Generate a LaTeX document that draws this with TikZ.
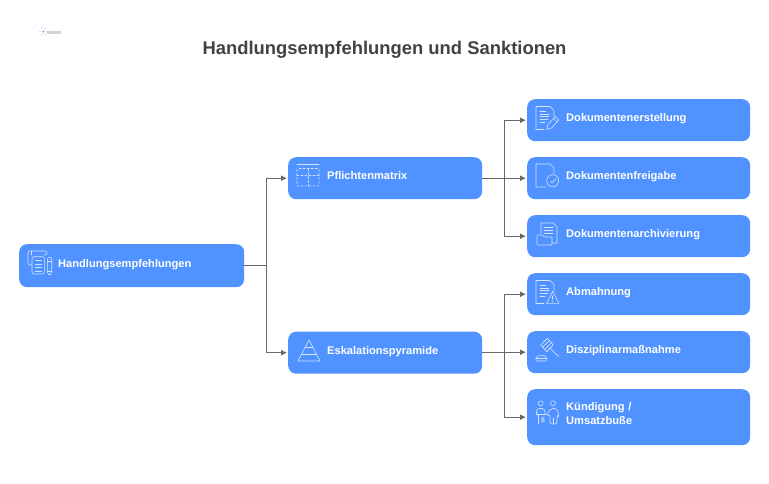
\documentclass[tikz,border=0pt]{standalone}
\usepackage{fontspec}
\setmainfont{Liberation Sans}
\usetikzlibrary{arrows.meta}
\definecolor{boxblue}{HTML}{5092FF}
\definecolor{iconline}{HTML}{D4E4FF}
\definecolor{connline}{HTML}{666666}
\definecolor{titlegrey}{HTML}{424242}
\tikzset{
  box/.style={fill=boxblue,rounded corners=8pt,text=white,font=\fontsize{11.1}{14}\selectfont\bfseries,
    minimum height=#1,inner ysep=0pt,inner xsep=39pt,align=left,text depth=5pt,anchor=north west},
  rootbox/.style={box=43pt,text width=147pt},
  midbox/.style={box=42pt,text width=116pt},
  leafbox/.style={box=42pt,text width=145pt},
  conn/.style={draw=connline,line width=1pt,-{Latex[length=6pt,width=6pt]},shorten >=1pt},
  icon/.style={draw=iconline,line width=0.6pt,line join=round,line cap=round}
}
% icons, drawn from the upper left corner of their box
\newcommand{\docicon}{%
  \draw[icon] (17,30.5)--(9,30.5)--(9,7.5)--(23,7.5)--(27,11.5)--(27,18);
  \foreach \i/\e in {12/19,14.8/22,17.6/22,20.4/21,23.2/18} {
    \draw[icon] (13,\i)--(\e,\i);
  }}
\newcommand{\pencilicon}{%
  \draw[icon] (19.7,30.3)--(21,25.5)--(28.5,17.5)--(32,21)--(24.5,29)--cycle (26.7,19.5)--(30.2,23);}
\newcommand{\checkicon}{%
  \draw[icon] (19,30)--(9,30)--(9,7)--(23,7)--(27,11)--(27,17);
  \draw[icon] (25.7,23.7) circle (6);
  \draw[icon] (23,24)--(25,26)--(29,21.5);}
\newcommand{\archiveicon}{%
  \draw[icon] (14,19)--(14,8)--(26,8)--(30,12)--(30,28)--(25,28);
  \foreach \i in {12,15,18} {
    \draw[icon] (17,\i)--(26,\i);
  }
  \draw[icon,rounded corners=1pt] (10,30)--(10,20)--(15,20)--(17,22)--(25,22)--(25,30)--cycle;}
\newcommand{\warnicon}{%
  \draw[icon] (25.7,18.5)--(19.5,30.3)--(32,30.3)--cycle;
  \draw[icon] (25.7,23)--(25.7,26.5) (25.7,28.3)--(25.7,28.6);}
\newcommand{\gavelicon}{%
  \draw[icon] (13.7,14)--(20.3,7.3)--(26.3,14)--(19.7,20.7)--cycle;
  \draw[icon] (15.7,16.2)--(22.3,9.5) (17.7,18.5)--(24.3,11.7);
  \draw[icon] (22.3,16.7)--(32,25.7);
  \draw[icon,rounded corners=1pt] (9,30)--(9,27)--(11,24.7)--(18,24.7)--(19.7,27)--(19.7,30)--cycle;
  \draw[icon] (9,27)--(19.7,27);}
\newcommand{\peopleicon}{%
  \draw[icon] (13.7,14.3) circle (2.5) (26,14.3) circle (2.5);
  \draw[icon,rounded corners=3pt] (9.5,25)--(9.5,19.5)--(18,19.5)--(18,25);
  \draw[icon] (9,25)--(19.5,25) (11,25)--(11,35);
  \draw[icon,rounded corners=2pt] (19.7,25.7)--(24,19.5)--(30,19.5)--(32,27)--(30,27)--(30,35)--(23,35)--(23,25)--(20.5,27);
  \draw[icon] (26.5,29)--(26.5,35);
  \node[text=iconline,font=\fontsize{7}{7}\selectfont\bfseries,inner sep=0pt] (dollar) at (16,31.5) {\$};}
\begin{document}
\begin{tikzpicture}[x=1pt,y=-1pt]
  \useasboundingbox (0,0) rectangle (769,483);

  \node[font=\fontsize{18.4}{22}\selectfont\bfseries,text=titlegrey] (title) at (384.5,50) {Handlungsempfehlungen und Sanktionen};

  % logo
  \fill[gray!35] (47,30.5) rectangle (61,33.5);
  \foreach \a in {0,60,...,300} {
    \fill[boxblue!35] (43.5,31.5)+(\a:3.5) circle (0.8);
  }
  \fill[gray!70] (43.5,31.5) circle (1.2);

  \node[rootbox] (root) at (19,244) {Handlungsempfehlungen};
  \node[midbox] (matrix) at (288,157) {Pflichtenmatrix};
  \node[midbox] (pyramid) at (288,331.5) {Eskalationspyramide};

  \foreach \name/\ypos/\txt in {doca/99/Dokumentenerstellung,docb/157/Dokumentenfreigabe,docc/215/Dokumentenarchivierung,warn/273/Abmahnung,disc/331/Disziplinarmaßnahme} {
    \node[leafbox] (\name) at (527,\ypos) {\txt};
  }
  \node[box=56pt,text width=145pt,text depth=22pt] (kuend) at (527,389) {Kündigung /\\Umsatzbuße};

  % connectors
  \foreach \t in {matrix,pyramid} {
    \draw[conn] (root.east)--++(22,0)|-(\t.west);
  }
  \foreach \t in {doca,docb,docc} {
    \draw[conn] (matrix.east)--++(22,0)|-(\t.west);
  }
  \foreach \t in {warn,disc,kuend} {
    \draw[conn] (pyramid.east)--++(22,0)|-(\t.west);
  }

  % icons
  \begin{scope}[shift={(527,99)}]
    \docicon
    \pencilicon
  \end{scope}
  \begin{scope}[shift={(527,157)}]
    \checkicon
  \end{scope}
  \begin{scope}[shift={(527,215)}]
    \archiveicon
  \end{scope}
  \begin{scope}[shift={(527,273)}]
    \docicon
    \warnicon
  \end{scope}
  \begin{scope}[shift={(527,331)}]
    \gavelicon
  \end{scope}
  \begin{scope}[shift={(527,389)}]
    \peopleicon
  \end{scope}

  \begin{scope}[shift={(288,157)}]
    \draw[icon] (9,7.5)--(31,7.5);
    \draw[icon,dash pattern=on 2pt off 2pt,rounded corners=1pt] (9,11.5) rectangle (31,29);
    \draw[icon,dash pattern=on 2pt off 2pt] (20,11.5)--(20,29) (9,18)--(31,18);
  \end{scope}
  \begin{scope}[shift={(288,331)}]
    \draw[icon] (21,9)--(10,30)--(32,30)--cycle;
    \draw[icon] (17.3,16)--(24.7,16) (13.7,23)--(28.3,23);
  \end{scope}
  \begin{scope}[shift={(19,244)}]
    \draw[icon,rounded corners=2pt] (13,30)--(13,12.7)--(25.3,12.7)--(25.3,30)--cycle;
    \draw[icon,rounded corners=2pt] (13,21)--(9,21)--(9,7)--(28,7)--(28,11)--(25.3,11);
    \draw[icon] (12,7)--(12,11);
    \foreach \i in {16.5,20,23.5,27} {
      \draw[icon] (16.5,\i)--(22.5,\i);
    }
    \draw[icon,rounded corners=1.5pt] (28.3,29)--(28.3,13.3)--(32.7,13.3)--(32.7,29)--(30.5,31.7)--cycle;
    \draw[icon] (28.3,17)--(32.7,17) (28.3,27)--(32.7,27);
  \end{scope}
\end{tikzpicture}
\end{document}
